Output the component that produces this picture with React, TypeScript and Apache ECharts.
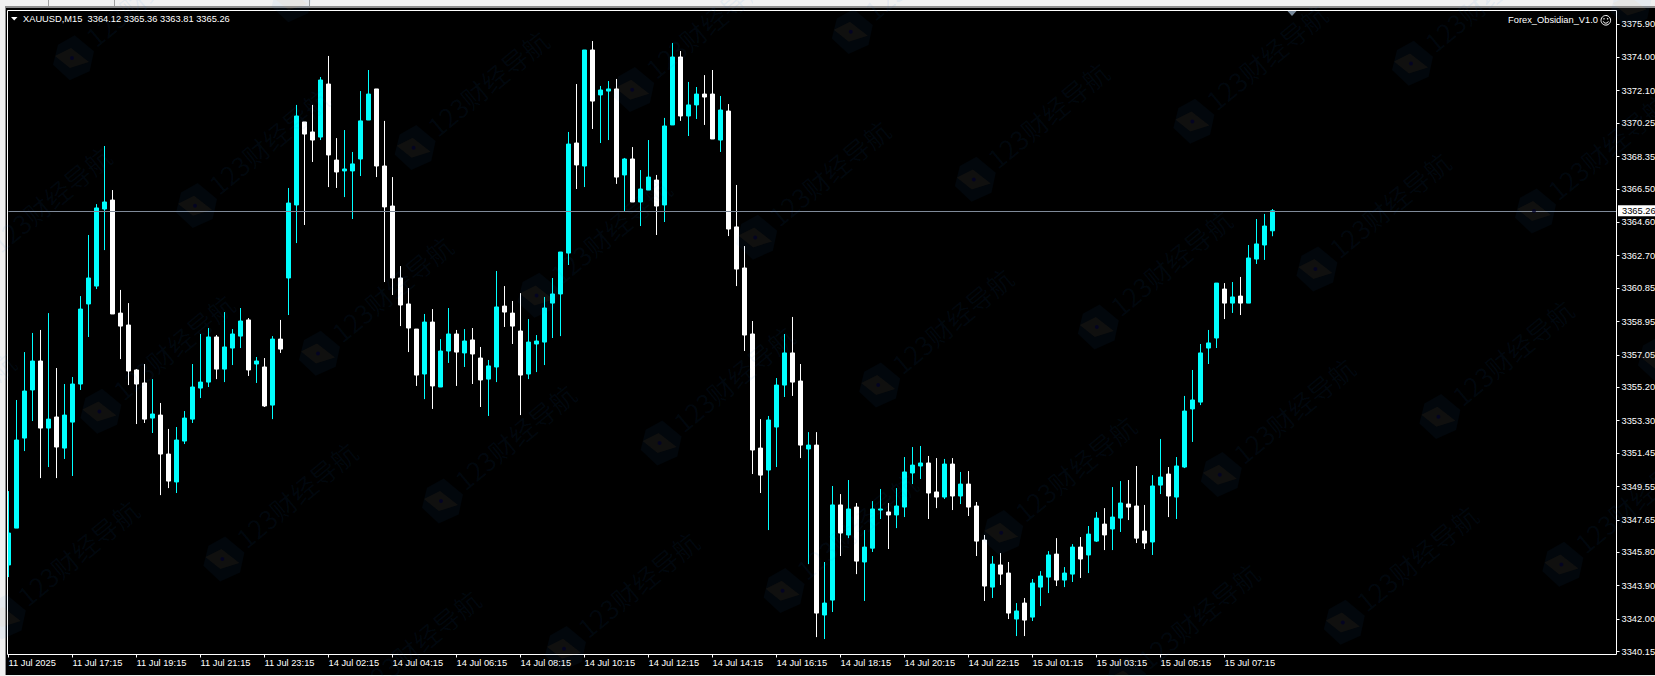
import React, { useEffect, useRef } from "react";
import * as echarts from "echarts";

const opens = [
3345.08,3347.18,3352.31,3355.05,3356.70,3352.88,3353.51,3351.74,3353.22,3355.39,
3359.95,3360.97,3365.36,3365.87,3359.43,3358.75,3356.19,3355.45,3353.45,3353.62,
3351.40,3349.81,3352.14,3353.39,3355.16,3355.50,3358.07,3356.24,3357.44,3358.12,
3359.04,3356.53,3356.36,3354.19,3357.95,3361.43,3365.59,3370.32,3369.75,3369.46,
3372.48,3368.15,3367.53,3367.53,3368.21,3370.43,3372.20,3367.81,3365.53,3361.43,
3359.95,3358.52,3355.96,3358.92,3355.22,3357.27,3358.24,3357.16,3357.90,3356.87,
3355.67,3356.36,3359.83,3359.43,3358.41,3355.96,3357.67,3357.78,3360.00,3360.52,
3362.85,3369.12,3367.81,3374.42,3371.86,3372.08,3372.20,3367.30,3368.21,3365.76,
3366.44,3367.01,3365.59,3370.15,3374.02,3370.66,3371.29,3371.91,3371.91,3369.29,
3370.94,3364.34,3362.00,3358.24,3351.74,3350.49,3352.94,3355.33,3357.16,3355.56,
3351.69,3351.91,3342.23,3343.08,3348.50,3346.79,3348.38,3345.25,3346.04,3348.21,
3348.10,3347.93,3348.38,3350.32,3350.72,3350.89,3349.24,3348.95,3350.83,3349.01,
3349.69,3348.44,3346.50,3343.82,3345.08,3344.62,3342.00,3342.91,3342.11,3343.82,
3344.39,3345.70,3344.22,3344.56,3346.10,3345.65,3346.44,3347.41,3347.13,3347.75,
3348.55,3348.44,3347.01,3346.39,3349.63,3350.26,3348.95,3350.66,3353.97,3354.36,
3357.44,3358.01,3360.80,3360.00,3360.40,3360.00,3362.51,3363.31,3364.12];

const closes = [
3346.90,3352.20,3354.99,3356.70,3352.88,3353.39,3351.80,3353.62,3355.39,3359.66,
3361.43,3365.42,3365.76,3359.38,3358.69,3356.13,3355.39,3353.39,3353.68,3351.40,
3349.86,3352.20,3353.45,3355.22,3355.50,3358.07,3356.24,3357.50,3358.24,3358.98,
3356.19,3356.70,3354.14,3357.95,3357.38,3365.70,3370.66,3369.63,3369.29,3372.71,
3368.44,3367.47,3367.64,3367.93,3370.38,3371.91,3367.81,3365.48,3361.43,3359.89,
3358.58,3355.90,3358.92,3355.28,3357.27,3358.24,3357.21,3357.84,3357.10,3355.62,
3356.42,3359.78,3359.49,3358.69,3355.90,3357.78,3357.84,3359.72,3360.52,3362.91,
3369.06,3367.87,3374.42,3371.51,3372.14,3372.20,3367.18,3368.21,3365.76,3366.50,
3367.18,3365.53,3370.09,3374.02,3370.66,3371.29,3371.91,3371.74,3369.35,3371.00,
3364.22,3361.94,3358.18,3351.63,3350.20,3353.34,3355.33,3357.16,3355.50,3351.91,
3351.91,3342.34,3342.91,3348.50,3346.90,3348.27,3345.30,3346.10,3348.27,3348.27,
3347.93,3348.44,3350.38,3350.77,3350.89,3349.18,3348.95,3350.83,3349.01,3349.69,
3348.38,3346.44,3343.88,3345.13,3344.56,3342.34,3342.46,3341.94,3344.05,3344.45,
3345.65,3344.22,3344.62,3346.10,3345.42,3346.84,3347.75,3346.79,3347.81,3348.61,
3348.38,3346.61,3346.33,3349.58,3350.09,3349.01,3350.72,3353.85,3354.48,3357.16,
3357.73,3361.14,3360.00,3360.35,3360.00,3362.57,3363.37,3364.39,3365.26];

const lows = [
3344.39,3347.18,3351.57,3353.28,3350.03,3350.66,3350.03,3351.12,3350.15,3355.05,
3358.07,3360.80,3363.02,3359.38,3356.81,3355.33,3353.11,3353.17,3352.60,3349.06,
3349.46,3349.18,3351.97,3353.17,3354.59,3355.22,3355.67,3355.50,3356.47,3357.44,
3355.85,3355.45,3354.08,3353.39,3357.16,3359.32,3363.42,3364.45,3368.04,3369.29,
3366.61,3366.56,3366.04,3364.79,3367.24,3370.43,3367.18,3361.20,3360.46,3358.69,
3357.21,3355.28,3354.53,3353.97,3355.22,3356.59,3355.28,3356.36,3355.39,3354.08,
3353.57,3355.50,3358.64,3357.67,3353.62,3355.67,3356.07,3356.47,3358.01,3358.12,
3362.17,3366.50,3366.61,3369.92,3369.12,3369.29,3366.79,3365.19,3365.76,3364.39,
3366.44,3363.88,3364.62,3370.15,3370.38,3369.52,3370.49,3370.15,3369.35,3368.61,
3363.82,3360.97,3357.27,3350.26,3349.18,3347.07,3350.66,3354.65,3354.71,3351.17,
3345.13,3340.97,3340.86,3342.40,3345.59,3346.61,3344.56,3343.03,3345.82,3347.70,
3345.99,3347.18,3347.81,3349.69,3349.98,3347.70,3348.32,3348.84,3348.21,3348.55,
3347.87,3345.59,3343.03,3343.20,3343.94,3342.00,3341.03,3341.03,3341.89,3342.74,
3343.48,3343.88,3343.82,3344.11,3344.34,3344.62,3346.39,3345.93,3345.93,3346.96,
3347.64,3346.33,3345.99,3345.65,3349.12,3347.81,3347.70,3350.60,3352.09,3354.19,
3356.53,3357.44,3359.09,3359.44,3359.32,3360.00,3362.23,3362.46,3363.81];

const highs = [
3349.29,3354.48,3357.21,3358.30,3358.47,3359.43,3356.30,3355.39,3355.79,3360.40,
3363.88,3365.64,3368.95,3366.44,3360.75,3360.00,3356.24,3356.53,3355.67,3354.31,
3352.83,3352.94,3353.85,3356.53,3358.24,3358.58,3358.18,3359.49,3358.52,3359.72,
3359.15,3356.93,3356.87,3358.12,3359.04,3366.56,3371.29,3370.32,3371.29,3372.88,
3374.08,3369.40,3369.86,3368.61,3372.08,3373.28,3372.20,3370.38,3367.18,3362.11,
3360.86,3358.52,3359.38,3359.66,3357.95,3359.72,3358.47,3358.52,3358.58,3357.50,
3356.76,3361.83,3360.97,3360.12,3360.57,3359.09,3358.18,3360.35,3361.43,3362.91,
3369.75,3372.48,3374.42,3374.93,3372.37,3372.65,3372.77,3368.27,3368.89,3367.58,
3369.29,3367.30,3370.55,3374.82,3374.36,3372.60,3372.31,3372.99,3373.28,3371.80,
3371.34,3366.73,3363.25,3358.98,3353.39,3353.57,3355.73,3358.24,3359.21,3356.53,
3352.65,3352.65,3345.25,3349.58,3349.12,3349.92,3348.61,3347.07,3348.72,3349.41,
3348.61,3349.46,3351.23,3351.80,3351.86,3351.29,3351.17,3351.12,3351.17,3350.38,
3350.43,3348.67,3346.79,3345.59,3345.76,3345.25,3342.91,3343.20,3344.28,3344.73,
3345.87,3346.61,3344.96,3346.27,3346.67,3347.30,3348.10,3348.32,3349.52,3349.86,
3349.92,3350.72,3348.50,3350.20,3352.26,3350.66,3351.23,3354.71,3356.19,3357.67,
3358.47,3361.14,3361.14,3361.20,3361.49,3363.31,3364.79,3365.08,3365.36];

const timeLabels = [
  "11 Jul 2025","11 Jul 17:15","11 Jul 19:15","11 Jul 21:15","11 Jul 23:15",
  "14 Jul 02:15","14 Jul 04:15","14 Jul 06:15","14 Jul 08:15","14 Jul 10:15",
  "14 Jul 12:15","14 Jul 14:15","14 Jul 16:15","14 Jul 18:15","14 Jul 20:15",
  "14 Jul 22:15","15 Jul 01:15","15 Jul 03:15","15 Jul 05:15","15 Jul 07:15",
];
const priceTicks = [
  3375.90,3374.00,3372.10,3370.25,3368.35,3366.50,3364.60,3362.70,3360.85,3358.95,
  3357.05,3355.20,3353.30,3351.45,3349.55,3347.65,3345.80,3343.90,3342.00,3340.15,
];
const lastPrice = 3365.26;
const symbolLine = "XAUUSD,M15  3364.12 3365.36 3363.81 3365.26";
const eaName = "Forex_Obsidian_V1.0";
const watermark = "123财经导航";

const BARS_PER_LABEL = 8;
const SLOTS = 202;
const FONT = '"Liberation Sans", Arial, sans-serif';

function buildWatermarks() {
  const out: any[] = [];
  const hex = [[2.7,-22.7],[22,-6.7],[17.7,13.3],[-2.3,22.3],[-19,6.7],[-14,-13.3]];
  const dia = [[-1,-10],[17,4],[-2,10],[-17,-2]];
  for (let i = -6; i <= 10; i++) {
    for (let j = -4; j <= 10; j++) {
      const x = 72 + 123 * i + 218.6 * j;
      const y = 58 + 147.7 * i - 58 * j;
      if (x < -180 || x > 1700 || y < -40 || y > 730) continue;
      out.push({ type: "polygon", x, y, z: 50, silent: true, shape: { points: hex }, style: { fill: "rgba(30,120,220,0.055)" } });
      out.push({ type: "polygon", x, y, z: 51, silent: true, shape: { points: dia }, style: { fill: "rgba(255,170,70,0.06)" } });
      if (x > 8 && y > 10) {
        out.push({ type: "circle", x, y, z: 52, silent: true, shape: { cx: 0, cy: 0, r: 2 }, style: { fill: "rgba(0,0,40,0.7)" } });
      }
      out.push({
        type: "text", x: x + 17, y: y - 18, z: 50, rotation: 0.69, silent: true,
        style: { text: watermark, font: '26px "Noto Sans CJK SC"', fill: "rgba(30,120,220,0.065)", align: "left", verticalAlign: "middle" },
      });
    }
  }
  return out;
}

function chrome() {
  const el: any[] = [
    { type: "rect", z: 20, silent: true, shape: { x: 0, y: 0, width: 1655, height: 6 }, style: { fill: "#f0f0f0" } },
    { type: "rect", z: 20, silent: true, shape: { x: 0, y: 6, width: 1655, height: 2 }, style: { fill: "#8c8c8c" } },
    { type: "rect", z: 20, silent: true, shape: { x: 0, y: 8, width: 7, height: 668 }, style: { fill: "#000" } },
    { type: "rect", z: 21, silent: true, shape: { x: 0, y: 0, width: 5, height: 676 }, style: { fill: "#f0f0f0" } },
    { type: "rect", z: 21, silent: true, shape: { x: 5, y: 6, width: 1, height: 670 }, style: { fill: "#8c8c8c" } },
    { type: "rect", z: 21, silent: true, shape: { x: 0, y: 675, width: 1655, height: 1 }, style: { fill: "#f0f0f0" } },
    { type: "line", z: 21, silent: true, shape: { x1: 48.5, y1: 0, x2: 48.5, y2: 6 }, style: { stroke: "#a0a0a0", lineWidth: 1 } },
    { type: "line", z: 21, silent: true, shape: { x1: 114.5, y1: 0, x2: 114.5, y2: 6 }, style: { stroke: "#a0a0a0", lineWidth: 1 } },
    { type: "line", z: 21, silent: true, shape: { x1: 309.5, y1: 0, x2: 309.5, y2: 6 }, style: { stroke: "#a0a0a0", lineWidth: 1 } },
    // chart frame
    { type: "rect", z: 22, silent: true, shape: { x: 7.5, y: 10.5, width: 1609, height: 644 }, style: { fill: "none", stroke: "#fff", lineWidth: 1 } },
    // shift marker on the top edge
    { type: "polygon", z: 23, silent: true, shape: { points: [[1287.5, 11], [1296.5, 11], [1292, 16]] }, style: { fill: "#778899" } },
    // title arrow and texts
    { type: "polygon", z: 23, silent: true, shape: { points: [[11, 17], [17.5, 17], [14.2, 20.5]] }, style: { fill: "#fff" } },
    { type: "text", z: 23, x: 23, y: 18.5, style: { text: symbolLine, font: `9.3px ${FONT}`, fill: "#fff", align: "left", verticalAlign: "middle" } },
    { type: "text", z: 23, x: 1598, y: 20, style: { text: eaName, font: `9.3px ${FONT}`, fill: "#fff", align: "right", verticalAlign: "middle" } },
    { type: "circle", z: 23, silent: true, shape: { cx: 1605.8, cy: 20.3, r: 4.8 }, style: { fill: "none", stroke: "#fff", lineWidth: 1 } },
    { type: "circle", z: 23, silent: true, shape: { cx: 1604, cy: 18.8, r: 0.7 }, style: { fill: "#fff" } },
    { type: "circle", z: 23, silent: true, shape: { cx: 1607.6, cy: 18.8, r: 0.7 }, style: { fill: "#fff" } },
    { type: "arc", z: 23, silent: true, shape: { cx: 1605.8, cy: 20.5, r: 2.7, startAngle: 0.3, endAngle: Math.PI - 0.3 }, style: { fill: "none", stroke: "#fff", lineWidth: 1 } },
  ];
  return el;
}

export default function App() {
  const ref = useRef<HTMLDivElement>(null);
  useEffect(() => {
    document.body.style.margin = "0";
    document.body.style.background = "#000";
    const chart = echarts.init(ref.current!, undefined, { renderer: "svg" });
    const categories = Array.from({ length: SLOTS }, (_, i) =>
      i % BARS_PER_LABEL === 0 ? timeLabels[i / BARS_PER_LABEL] ?? "" : "");
    const showSlot = (i: number) => i % BARS_PER_LABEL === 0 && timeLabels[i / BARS_PER_LABEL] !== undefined;
    chart.setOption({
      animation: false,
      backgroundColor: "#000",
      grid: { left: 8.5, top: 10.5, width: 1608, height: 644, show: false, containLabel: false, outerBoundsMode: "none" },
      xAxis: {
        type: "category",
        data: categories,
        boundaryGap: false,
        axisLine: { show: false },
        axisTick: { show: true, length: 3, interval: showSlot, lineStyle: { color: "#fff", width: 1 } },
        axisLabel: {
          show: true, interval: showSlot, align: "left", margin: 4, color: "#fff",
          fontSize: 9.3, fontFamily: FONT, hideOverlap: false,
        },
        splitLine: { show: false },
      },
      yAxis: {
        type: "value",
        position: "right",
        min: 3339.98,
        max: 3376.67,
        scale: true,
        axisLine: { show: false },
        axisTick: { show: true, length: 3, customValues: priceTicks, lineStyle: { color: "#fff", width: 1 } },
        axisLabel: {
          show: true, customValues: priceTicks, margin: 5, color: "#fff",
          fontSize: 9.3, fontFamily: FONT, formatter: (v: number) => v.toFixed(2),
        },
        splitLine: { show: false },
      },
      series: [{
        type: "candlestick",
        clip: false,
        barWidth: 4,
        data: opens.map((o, i) => [o, closes[i], lows[i], highs[i]]),
        itemStyle: { color: "#00ffff", color0: "#ffffff", borderColor: "#00ffff", borderColor0: "#ffffff", borderWidth: 1 },
        markLine: {
          silent: true,
          symbol: "none",
          animation: false,
          data: [{ yAxis: lastPrice }],
          lineStyle: { color: "#7f8a99", width: 1, type: "solid" },
          label: {
            show: true, position: "end", distance: 1.5, formatter: lastPrice.toFixed(2),
            color: "#000", backgroundColor: "#fff", padding: [1, 8, 1, 4], fontSize: 9.3, fontFamily: FONT,
          },
        },
      }],
      graphic: { elements: [...chrome(), ...buildWatermarks()] },
    });
    return () => chart.dispose();
  }, []);
  return <div ref={ref} style={{ position: "fixed", left: 0, top: 0, width: 1655, height: 676 }} />;
}
